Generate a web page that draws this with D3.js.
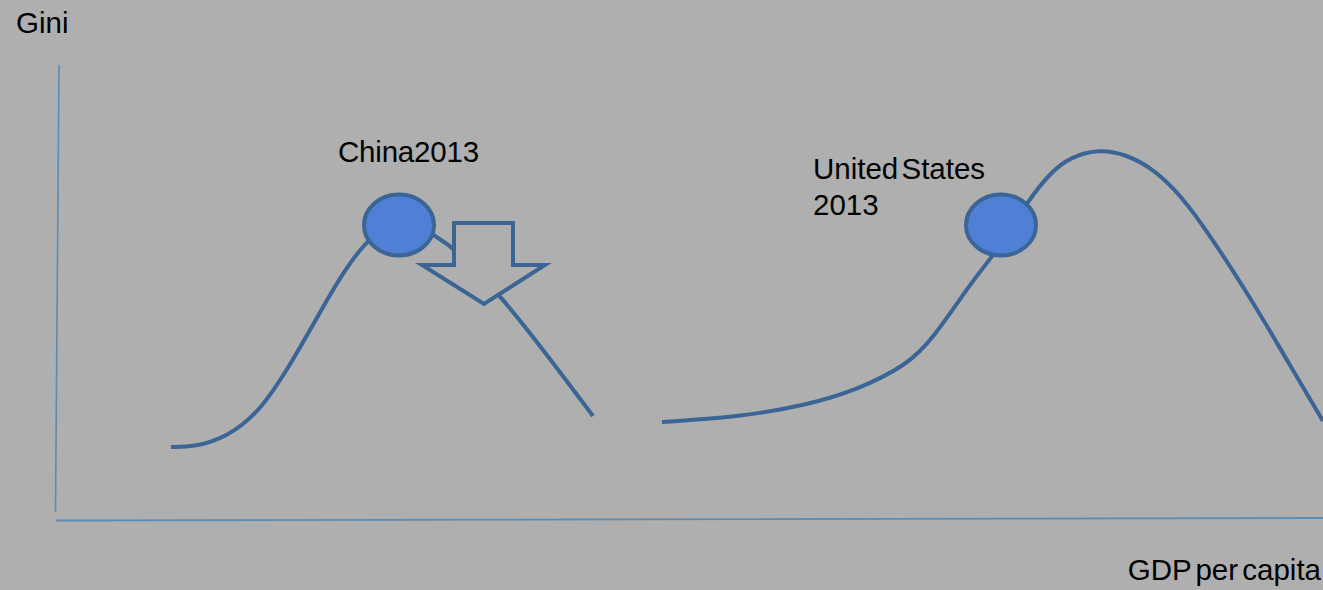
<!DOCTYPE html>
<html>
<head>
<meta charset="utf-8">
<script src="https://cdn.jsdelivr.net/npm/d3@7"></script>
<style>
  html, body { margin: 0; padding: 0; background: #afafaf; }
  svg { display: block; }
  text { font-family: "Liberation Sans", Arial, sans-serif; fill: #000; }
</style>
</head>
<body>
<svg id="chart" width="1323" height="590"></svg>
<script>
// ---- data (GDP per capita index on x, Gini index on y; schematic) ----
const chinaCurveX = [115, 139, 171, 204, 237, 254, 271, 287, 307, 329, 344, 364, 377, 399, 444, 489, 537];
const chinaCurveY = [73, 73, 83, 108, 160, 190, 220, 247, 275, 294, 300, 294, 285, 272, 225, 168, 104];
const usCurveX = [606, 684, 751, 801, 851, 876, 917, 936, 945, 972, 994, 1014, 1044, 1071, 1094, 1117, 1144, 1196, 1232, 1267];
const usCurveY = [98, 103, 115, 130, 155, 180, 240, 263, 277, 319, 347, 363, 371, 365, 353, 333, 300, 220, 158, 99];
const pointNames = ["China2013", "United States 2013"];
const pointX = [343, 945];
const pointY = [295, 295];
const xAxisLabel = "GDP per capita";
const yAxisLabel = "Gini";
// hollow down-arrow annotation, in data units relative to its tip
const arrowTipX = 428, arrowTipY = 216;
const arrowShapeDX = [-30, 29, 29, 61, 0, -62, -30];
const arrowShapeDY = [81, 81, 39, 39, 0, 39, 39];

// ---- layout ----
const svg = d3.select("#chart");
const W = 1323, H = 590;
const x = d3.scaleLinear().domain([0, 1267]).range([56, 1323]);
const y = d3.scaleLinear().domain([0, 455]).range([520, 65]);

const lineColor = "#3a6595";
const axisColor = "#5b8cb3";
const fillColor = "#4f80d6";
const bg = "#afafaf";

svg.append("rect").attr("width", W).attr("height", H).attr("fill", bg);

// axes (plain lines, no ticks)
svg.append("line")
  .attr("x1", x(0) + 3).attr("y1", y(455))
  .attr("x2", x(0) - 0.5).attr("y2", y(8))
  .attr("stroke", axisColor).attr("stroke-width", 1.6);
svg.append("line")
  .attr("x1", x(0)).attr("y1", y(0) + 0.5)
  .attr("x2", x(1267)).attr("y2", y(0) - 2)
  .attr("stroke", axisColor).attr("stroke-width", 1.8);

const line = d3.line()
  .x(d => x(d[0])).y(d => y(d[1]))
  .curve(d3.curveBasis);

const china = chinaCurveX.map((v, i) => [v, chinaCurveY[i]]);
const us = usCurveX.map((v, i) => [v, usCurveY[i]]);

[china, us].forEach(pts => {
  svg.append("path")
    .attr("d", line(pts))
    .attr("fill", "none")
    .attr("stroke", lineColor)
    .attr("stroke-width", 4);
});

// hollow arrow (filled with background so the curve is hidden behind it)
const arrowPts = arrowShapeDX.map((dx, i) => [x(arrowTipX + dx), y(arrowTipY + arrowShapeDY[i])]);
svg.append("polygon")
  .attr("points", arrowPts.map(p => p.join(",")).join(" "))
  .attr("fill", bg)
  .attr("stroke", lineColor)
  .attr("stroke-width", 4)
  .attr("stroke-linejoin", "miter");

// highlighted points
svg.selectAll("ellipse.pt").data(pointNames).enter().append("ellipse")
  .attr("class", "pt")
  .attr("cx", (d, i) => x(pointX[i]))
  .attr("cy", (d, i) => y(pointY[i]))
  .attr("rx", 35).attr("ry", 30.5)
  .attr("fill", fillColor)
  .attr("stroke", lineColor)
  .attr("stroke-width", 4);

const fs = 29.5;
// labels
svg.append("text").attr("x", 16).attr("y", 33).attr("font-size", fs).text(yAxisLabel);

svg.append("text").attr("x", 338).attr("y", 162).attr("font-size", fs)
  .attr("letter-spacing", -0.2).text("China2013");

const usLbl = svg.append("text").attr("x", 813).attr("font-size", fs);
usLbl.append("tspan").attr("x", 813).attr("y", 179).attr("word-spacing", -5).text("United States");
usLbl.append("tspan").attr("x", 813).attr("y", 215).text("2013");

svg.append("text").attr("x", 1321).attr("y", 580).attr("font-size", fs)
  .attr("text-anchor", "end").attr("word-spacing", -4).text(xAxisLabel);
</script>
</body>
</html>
